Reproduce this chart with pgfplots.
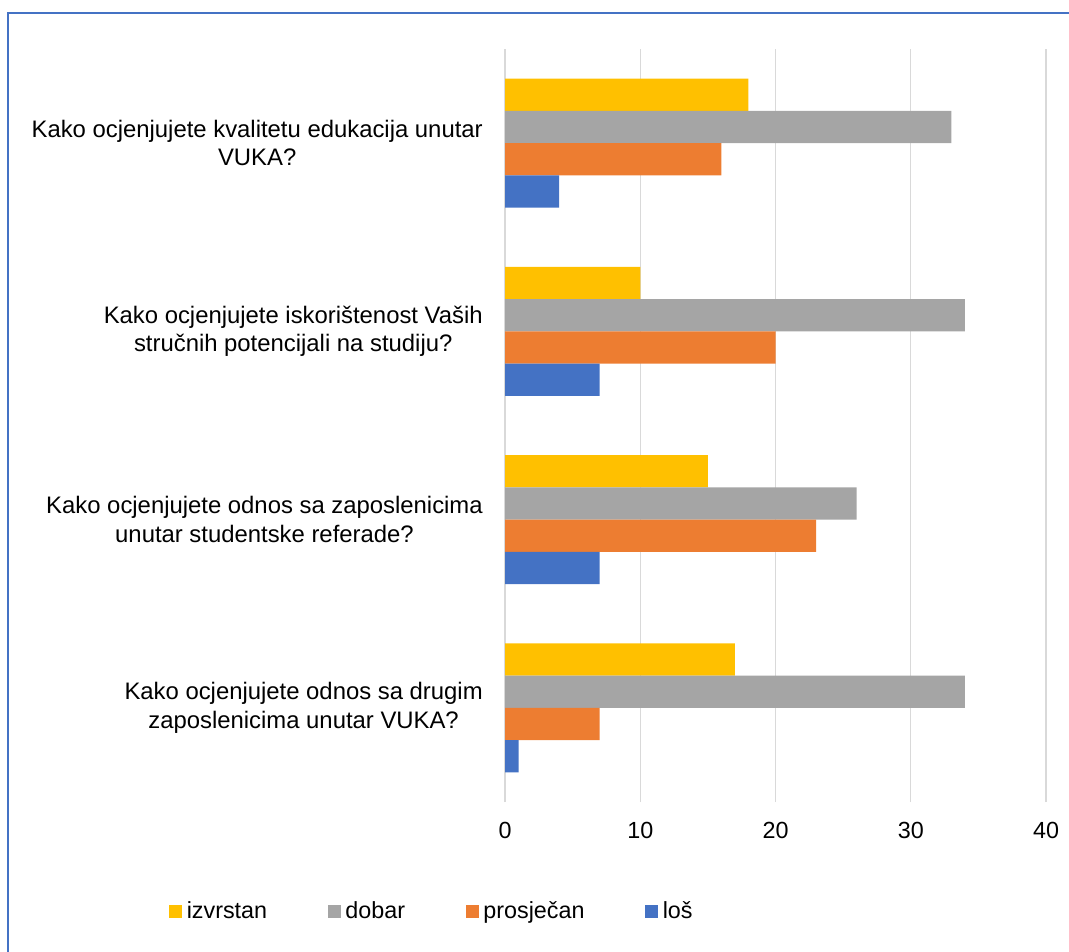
\documentclass[border=0pt]{standalone}
\usepackage{pgfplots}
\pgfplotsset{compat=1.18}
\usepackage{fontspec}
\setmainfont{Liberation Sans}

\definecolor{izv}{HTML}{FFC000}
\definecolor{dob}{HTML}{A5A5A5}
\definecolor{pro}{HTML}{ED7D31}
\definecolor{los}{HTML}{4472C4}
\definecolor{gridc}{HTML}{D9D9D9}

\begin{document}
\begin{tikzpicture}
\begin{axis}[
    at={(378.75pt,111.75pt)}, anchor=south west,
    scale only axis,
    width=405.75pt, height=564.75pt,
    xbar, bar width=0.1713,
    xmin=0, xmax=40, ymin=-0.5, ymax=3.5,
    xtick={0,10,20,30,40},
    ytick={0,1,2,3},
    yticklabels={
        {Kako ocjenjujete odnos sa drugim\\zaposlenicima unutar VUKA?},
        {Kako ocjenjujete odnos sa zaposlenicima\\unutar studentske referade?},
        {Kako ocjenjujete iskorištenost Vaših\\stručnih potencijali na studiju?},
        {Kako ocjenjujete kvalitetu edukacija unutar\\VUKA?}},
    axis line style={draw=none},
    tick style={draw=none},
    xmajorgrids,
    major grid style={color=gridc, line width=1.1pt},
    major tick length=0pt,
    /pgf/number format/assume math mode=true,
    tick label style={inner sep=0pt},
    yticklabel style={font=\fontsize{17.9}{21.5}\selectfont, align=center, anchor=east, xshift=-16.5pt},
    xticklabel style={font=\fontsize{17.5}{20}\selectfont, anchor=north, yshift=-15pt},
    legend columns=4,
    legend style={at={(-0.621,-0.1454)}, anchor=west, draw=none,
        inner sep=0pt, font=\fontsize{17.5}{20}\selectfont,
        nodes={inner xsep=3.6pt, inner ysep=1pt},
        /tikz/every even column/.append style={column sep=42pt}},
    legend image code/.code={\fill[#1] (0pt,-4.9pt) rectangle (9.5pt,4.9pt);},
]
\addplot[fill=izv, draw=none, bar shift=0.257] coordinates {(18,3) (10,2) (15,1) (17,0)};
\addplot[fill=dob, draw=none, bar shift=0.0857] coordinates {(33,3) (34,2) (26,1) (34,0)};
\addplot[fill=pro, draw=none, bar shift=-0.0857] coordinates {(16,3) (20,2) (23,1) (7,0)};
\addplot[fill=los, draw=none, bar shift=-0.257] coordinates {(4,3) (7,2) (7,1) (1,0)};
\legend{izvrstan, dobar, prosječan, loš}
\end{axis}
\draw[color=los, line width=1pt] (6pt,-10pt) -- (6pt,703.5pt) -- (820pt,703.5pt);
\pgfresetboundingbox
\useasboundingbox (0,0) rectangle (801.75pt,713.25pt);
\end{tikzpicture}
\end{document}
